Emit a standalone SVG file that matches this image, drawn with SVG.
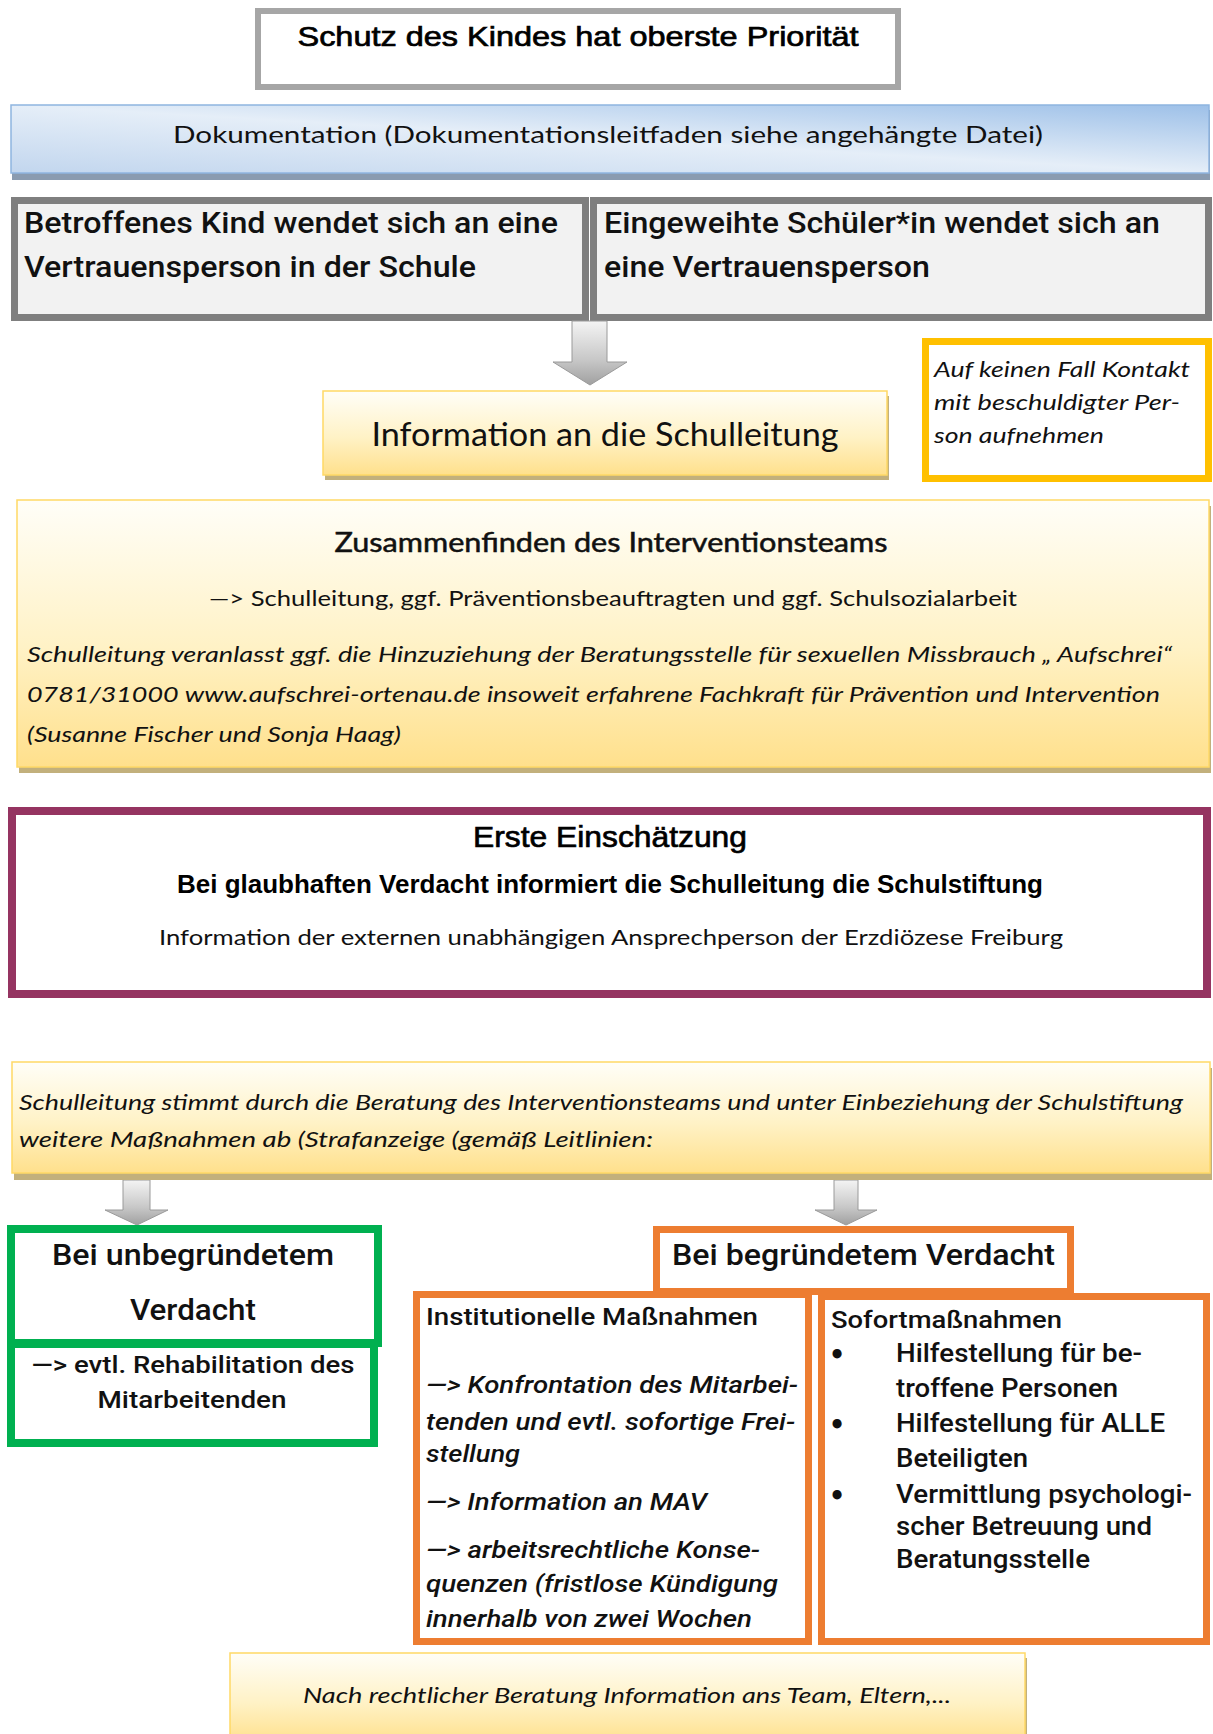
<svg xmlns="http://www.w3.org/2000/svg" width="1213" height="1734" viewBox="0 0 1213 1734">
<defs>
<linearGradient id="blueGrad" x1="0" y1="1" x2="1" y2="0">
<stop offset="0" stop-color="#c2d6ee"/>
<stop offset="0.5" stop-color="#e5eef8"/>
<stop offset="1" stop-color="#9dc0e8"/>
</linearGradient>
<linearGradient id="yellowGrad" x1="0" y1="0" x2="0" y2="1">
<stop offset="0" stop-color="#fffef8"/>
<stop offset="0.55" stop-color="#fff2c6"/>
<stop offset="1" stop-color="#ffe08c"/>
</linearGradient>
<linearGradient id="arrowGrad" x1="0" y1="0" x2="0" y2="1">
<stop offset="0" stop-color="#f4f4f4"/>
<stop offset="0.6" stop-color="#c8c8c8"/>
<stop offset="1" stop-color="#a0a0a0"/>
</linearGradient>
<style>
.narrow{font-family:"Liberation Sans Narrow","Liberation Sans",Arial,sans-serif;fill:#000}
.cal{font-family:Lato,"Open Sans","Liberation Sans",sans-serif;fill:#111}
.cali{font-family:Lato,"Open Sans","Liberation Sans",sans-serif;font-style:italic;fill:#111}
.rob{font-family:Roboto,"Liberation Sans",sans-serif;font-weight:500;fill:#111}
.robbi{font-family:Roboto,"Liberation Sans",sans-serif;font-weight:500;font-style:italic;fill:#111}
.bullet{font-family:"DejaVu Sans","Liberation Sans",sans-serif;font-weight:bold;fill:#111}
.ybox{fill:url(#yellowGrad);stroke:#ffd966;stroke-width:1.5}
.yshadow{fill:#c2b07c}
.gray{fill:#f2f2f2;stroke:#7f7f7f;stroke-width:7}
.orange{fill:#fff;stroke:#ed7d31;stroke-width:7}
.green{fill:#fff;stroke:#00b050;stroke-width:8}
.arrow{fill:url(#arrowGrad);stroke:#9a9a9a;stroke-width:1}
</style>
</defs>

<g id="title">
<rect x="258" y="11" width="640" height="76" fill="#fff" stroke="#a6a6a6" stroke-width="6"/>
<text class="narrow" x="578" y="46" font-size="28" text-anchor="middle" textLength="561" lengthAdjust="spacingAndGlyphs" stroke="#000" stroke-width="0.7">Schutz des Kindes hat oberste Priorität</text>
</g>

<g id="dokumentation">
<rect x="12" y="110" width="1198" height="70" fill="#8a9bb0"/>
<rect x="11" y="105" width="1198" height="68" fill="url(#blueGrad)" stroke="#8fb5e0" stroke-width="1.5"/>
<text class="cal" x="608" y="143" font-size="24" text-anchor="middle" textLength="870" lengthAdjust="spacingAndGlyphs">Dokumentation (Dokumentationsleitfaden siehe angehängte Datei)</text>
</g>

<g id="kind">
<rect class="gray" x="14.5" y="200.5" width="571" height="117"/>
<text class="rob" x="24" y="233" font-size="29" textLength="534" lengthAdjust="spacingAndGlyphs">Betroffenes Kind wendet sich an eine</text>
<text class="rob" x="24" y="277" font-size="29" textLength="452" lengthAdjust="spacingAndGlyphs">Vertrauensperson in der Schule</text>
</g>

<g id="schueler">
<rect class="gray" x="593.5" y="200.5" width="615" height="117"/>
<text class="rob" x="604" y="233" font-size="29" textLength="556" lengthAdjust="spacingAndGlyphs">Eingeweihte Schüler*in wendet sich an</text>
<text class="rob" x="604" y="277" font-size="29" textLength="326" lengthAdjust="spacingAndGlyphs">eine Vertrauensperson</text>
</g>

<g id="connectors">
<path class="arrow" d="M572,321 L607,321 L607,362 L627,362 L590,385 L553,362 L572,362 Z"/>
<path class="arrow" d="M123,1180 L150,1180 L150,1210 L168,1210 L137,1225 L105,1210 L123,1210 Z"/>
<path class="arrow" d="M834,1180 L858,1180 L858,1210 L877,1210 L846,1225 L815,1210 L834,1210 Z"/>
</g>

<g id="schulleitung">
<rect class="yshadow" x="325" y="396" width="564" height="84"/>
<rect class="ybox" x="323" y="391" width="564" height="84"/>
<text class="cal" x="605" y="446" font-size="32" text-anchor="middle" textLength="467" lengthAdjust="spacingAndGlyphs">Information an die Schulleitung</text>
</g>

<g id="hinweis">
<rect x="925.5" y="341.5" width="283" height="137" fill="#fff" stroke="#ffc000" stroke-width="7"/>
<text class="cali" x="934" y="377" font-size="22" textLength="256" lengthAdjust="spacingAndGlyphs">Auf keinen Fall Kontakt</text>
<text class="cali" x="934" y="410" font-size="22" textLength="246" lengthAdjust="spacingAndGlyphs">mit beschuldigter Per-</text>
<text class="cali" x="934" y="443" font-size="22" textLength="170" lengthAdjust="spacingAndGlyphs">son aufnehmen</text>
</g>

<g id="interventionsteam">
<rect class="yshadow" x="19" y="506" width="1192" height="267"/>
<rect class="ybox" x="17" y="500" width="1192" height="267"/>
<text class="cal" x="611" y="552" font-size="26" text-anchor="middle" textLength="553" lengthAdjust="spacingAndGlyphs" stroke="#111" stroke-width="0.5">Zusammenfinden des Interventionsteams</text>
<text class="cal" x="613" y="606" font-size="22" text-anchor="middle" textLength="808" lengthAdjust="spacingAndGlyphs">—&gt; Schulleitung, ggf. Präventionsbeauftragten und ggf. Schulsozialarbeit</text>
<text class="cali" x="27" y="662" font-size="22" textLength="1145" lengthAdjust="spacingAndGlyphs">Schulleitung veranlasst ggf. die Hinzuziehung der Beratungsstelle für sexuellen Missbrauch „ Aufschrei“</text>
<text class="cali" x="27" y="702" font-size="22" textLength="1133" lengthAdjust="spacingAndGlyphs">0781/31000 www.aufschrei-ortenau.de insoweit erfahrene Fachkraft für Prävention und Intervention</text>
<text class="cali" x="27" y="742" font-size="22" textLength="374" lengthAdjust="spacingAndGlyphs">(Susanne Fischer und Sonja Haag)</text>
</g>

<g id="einschaetzung">
<rect x="12" y="811" width="1195" height="183" fill="#fff" stroke="#953461" stroke-width="8"/>
<text class="narrow" x="610" y="847" font-size="30" text-anchor="middle" textLength="274" lengthAdjust="spacingAndGlyphs" stroke="#000" stroke-width="0.7">Erste Einschätzung</text>
<text class="narrow" x="610" y="893" font-size="25" text-anchor="middle" textLength="866" lengthAdjust="spacingAndGlyphs" font-weight="bold">Bei glaubhaften Verdacht informiert die Schulleitung die Schulstiftung</text>
<text class="cal" x="611" y="945" font-size="22" text-anchor="middle" textLength="904" lengthAdjust="spacingAndGlyphs">Information der externen unabhängigen Ansprechperson der Erzdiözese Freiburg</text>
</g>

<g id="massnahmen">
<rect class="yshadow" x="14" y="1068" width="1198" height="112"/>
<rect class="ybox" x="12" y="1062" width="1198" height="111"/>
<text class="cali" x="19" y="1110" font-size="22" textLength="1164" lengthAdjust="spacingAndGlyphs">Schulleitung stimmt durch die Beratung des Interventionsteams und unter Einbeziehung der Schulstiftung</text>
<text class="cali" x="19" y="1147" font-size="22" textLength="634" lengthAdjust="spacingAndGlyphs">weitere Maßnahmen ab (Strafanzeige (gemäß Leitlinien:</text>
</g>

<g id="unbegruendet">
<rect class="green" x="11" y="1344" width="363" height="99"/>
<rect class="green" x="11" y="1229" width="367" height="114"/>
<text class="rob" x="193" y="1265" font-size="30" text-anchor="middle" textLength="282" lengthAdjust="spacingAndGlyphs">Bei unbegründetem</text>
<text class="rob" x="193" y="1320" font-size="30" text-anchor="middle" textLength="126" lengthAdjust="spacingAndGlyphs">Verdacht</text>
<text class="rob" x="193" y="1373" font-size="23" text-anchor="middle" textLength="323" lengthAdjust="spacingAndGlyphs">—&gt; evtl. Rehabilitation des</text>
<text class="rob" x="192" y="1408" font-size="23" text-anchor="middle" textLength="189" lengthAdjust="spacingAndGlyphs">Mitarbeitenden</text>
</g>

<g id="institutionell">
<rect class="orange" x="416.5" y="1294.5" width="392" height="347"/>
<text class="rob" x="426" y="1325" font-size="24" textLength="332" lengthAdjust="spacingAndGlyphs">Institutionelle Maßnahmen</text>
<text class="robbi" x="426" y="1393" font-size="24" textLength="372" lengthAdjust="spacingAndGlyphs">—&gt; Konfrontation des Mitarbei-</text>
<text class="robbi" x="426" y="1430" font-size="24" textLength="369" lengthAdjust="spacingAndGlyphs">tenden und evtl. sofortige Frei-</text>
<text class="robbi" x="426" y="1462" font-size="24" textLength="94" lengthAdjust="spacingAndGlyphs">stellung</text>
<text class="robbi" x="426" y="1510" font-size="24" textLength="281" lengthAdjust="spacingAndGlyphs">—&gt; Information an MAV</text>
<text class="robbi" x="426" y="1558" font-size="24" textLength="334" lengthAdjust="spacingAndGlyphs">—&gt; arbeitsrechtliche Konse-</text>
<text class="robbi" x="426" y="1592" font-size="24" textLength="352" lengthAdjust="spacingAndGlyphs">quenzen (fristlose Kündigung</text>
<text class="robbi" x="426" y="1627" font-size="24" textLength="326" lengthAdjust="spacingAndGlyphs">innerhalb von zwei Wochen</text>
</g>

<g id="sofort">
<rect class="orange" x="821.5" y="1296.5" width="385" height="345"/>
<text class="rob" x="831" y="1328" font-size="24" textLength="231" lengthAdjust="spacingAndGlyphs">Sofortmaßnahmen</text>
<text class="bullet" x="837" y="1364" font-size="26" text-anchor="middle">•</text>
<text class="rob" x="896" y="1362" font-size="25" textLength="246" lengthAdjust="spacingAndGlyphs">Hilfestellung für be-</text>
<text class="rob" x="896" y="1397" font-size="25" textLength="222" lengthAdjust="spacingAndGlyphs">troffene Personen</text>
<text class="bullet" x="837" y="1434" font-size="26" text-anchor="middle">•</text>
<text class="rob" x="896" y="1432" font-size="25" textLength="269" lengthAdjust="spacingAndGlyphs">Hilfestellung für ALLE</text>
<text class="rob" x="896" y="1467" font-size="25" textLength="132" lengthAdjust="spacingAndGlyphs">Beteiligten</text>
<text class="bullet" x="837" y="1505" font-size="26" text-anchor="middle">•</text>
<text class="rob" x="896" y="1503" font-size="25" textLength="296" lengthAdjust="spacingAndGlyphs">Vermittlung psychologi-</text>
<text class="rob" x="896" y="1535" font-size="25" textLength="256" lengthAdjust="spacingAndGlyphs">scher Betreuung und</text>
<text class="rob" x="896" y="1568" font-size="25" textLength="194" lengthAdjust="spacingAndGlyphs">Beratungsstelle</text>
</g>

<g id="begruendet">
<rect class="orange" x="656.5" y="1229.5" width="414" height="62"/>
<text class="rob" x="672" y="1265" font-size="30" textLength="383" lengthAdjust="spacingAndGlyphs">Bei begründetem Verdacht</text>
</g>

<g id="abschluss">
<rect class="yshadow" x="232" y="1658" width="795" height="90"/>
<rect class="ybox" x="230" y="1653" width="795" height="90"/>
<text class="cali" x="627" y="1703" font-size="22" text-anchor="middle" textLength="648" lengthAdjust="spacingAndGlyphs">Nach rechtlicher Beratung Information ans Team, Eltern,...</text>
</g>
</svg>
